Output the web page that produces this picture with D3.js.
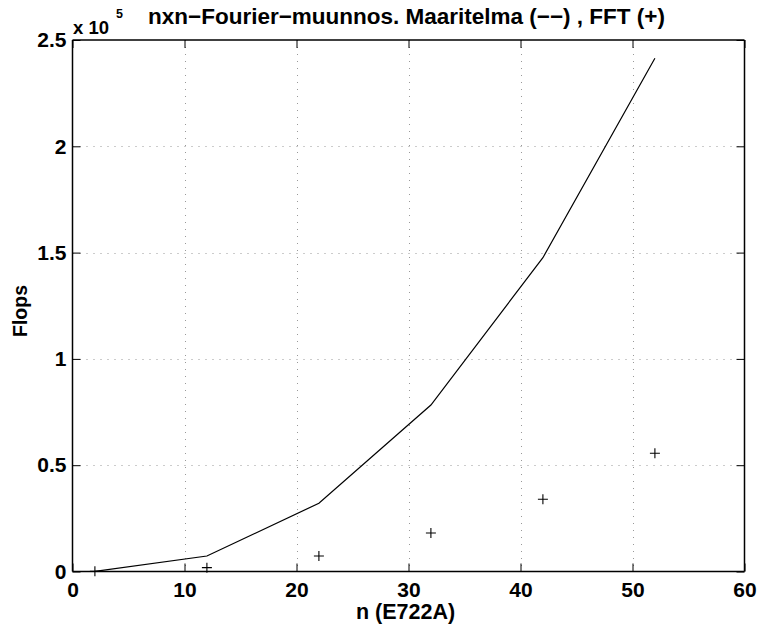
<!DOCTYPE html>
<html><head><meta charset="utf-8">
<script src="https://cdn.jsdelivr.net/npm/d3@7"></script>
<style>body{margin:0;background:#fff}svg{display:block}</style>
</head><body>
<svg id="c" width="761" height="632"></svg>
<script>
const nValues = [2, 12, 22, 32, 42, 52];
const defFlops = [100, 7300, 32100, 78300, 147600, 241400];
const fftFlops = [60, 1800, 7300, 18100, 34000, 55600];
const xTicks = [0, 10, 20, 30, 40, 50, 60];
const yTicks = [0, 0.5e5, 1e5, 1.5e5, 2e5, 2.5e5];
const yTickLabels = ["0", "0.5", "1", "1.5", "2", "2.5"];

const svg = d3.select("#c");
const L = 72.5, R = 744.5, T = 40, B = 571.5;
const x = d3.scaleLinear().domain([0, 60]).range([L, R]);
const y = d3.scaleLinear().domain([0, 2.5e5]).range([B, T]);
const font = "'Liberation Sans', Arial, Helvetica, sans-serif";

// grid
const g = svg.append("g");
g.selectAll(".vg").data(xTicks.slice(1, -1)).enter().append("line")
  .attr("x1", d => Math.round(x(d)) + 0.5).attr("x2", d => Math.round(x(d)) + 0.5)
  .attr("y1", T).attr("y2", B)
  .attr("stroke", "#999").attr("stroke-width", 1).attr("stroke-dasharray", "1,6");
g.selectAll(".hg").data(yTicks.slice(1, -1)).enter().append("line")
  .attr("y1", d => Math.round(y(d)) + 0.5).attr("y2", d => Math.round(y(d)) + 0.5)
  .attr("x1", L).attr("x2", R)
  .attr("stroke", "#999").attr("stroke-width", 1).attr("stroke-dasharray", "1,6");

// axes with inward ticks
const xb = d3.axisBottom(x).tickValues(xTicks).tickSize(-8).tickPadding(11).tickFormat(d3.format("d"));
const xt = d3.axisTop(x).tickValues(xTicks).tickSize(-8).tickFormat("");
const yl = d3.axisLeft(y).tickValues(yTicks).tickSize(-8).tickPadding(6).tickFormat((d, i) => yTickLabels[i]);
const yr = d3.axisRight(y).tickValues(yTicks).tickSize(-8).tickFormat("");

function style(sel) {
  sel.attr("font-size", null).attr("font-family", null);
  sel.selectAll(".domain").attr("stroke", "#000").attr("stroke-width", 1.5);
  sel.selectAll(".tick line").attr("stroke", "#000").attr("stroke-width", 1);
  sel.selectAll("text").style("font-family", font).style("font-weight", "bold")
    .style("font-size", "21px").attr("fill", "#000");
}
svg.append("g").attr("transform", `translate(0,${B})`).call(xb).call(style)
  .call(s => s.select(".domain").attr("d", `M${L},0H${R}`));
svg.append("g").attr("transform", `translate(0,${T})`).call(xt).call(style)
  .call(s => s.select(".domain").attr("d", `M${L},0H${R}`));
svg.append("g").attr("transform", `translate(${L},0)`).call(yl).call(style)
  .call(s => s.select(".domain").attr("d", `M0,${T}V${B}`));
svg.append("g").attr("transform", `translate(${R},0)`).call(yr).call(style)
  .call(s => s.select(".domain").attr("d", `M0,${T}V${B}`));

// definition line
const data = nValues.map((n, i) => ({n, d: defFlops[i], f: fftFlops[i]}));
svg.append("path").datum(data)
  .attr("d", d3.line().x(d => x(d.n)).y(d => y(d.d)))
  .attr("fill", "none").attr("stroke", "#000").attr("stroke-width", 1.2);

// FFT plus markers
svg.selectAll(".pm").data(data).enter().append("path")
  .attr("d", d => { const cx = x(d.n), cy = y(d.f), s = 5;
    return `M${cx - s},${cy}H${cx + s}M${cx},${cy - s}V${cy + s}`; })
  .attr("stroke", "#000").attr("stroke-width", 1.1).attr("fill", "none");

// exponent label
const ex = svg.append("text").attr("x", 73).attr("y", 34)
  .style("font-family", font).style("font-weight", "bold").style("font-size", "18.5px").attr("fill", "#000");
ex.append("tspan").text("x 10");
ex.append("tspan").attr("dx", 7).attr("dy", -16).style("font-size", "12.5px").text("5");

// title
svg.append("text").attr("x", 406.5).attr("y", 24).attr("text-anchor", "middle")
  .style("font-family", font).style("font-weight", "bold").style("font-size", "22.5px").attr("fill", "#000")
  .text("nxn\u2212Fourier\u2212muunnos. Maaritelma (\u2212\u2212) , FFT (+)");

// axis labels
svg.append("text").attr("x", 405.5).attr("y", 619).attr("text-anchor", "middle")
  .style("font-family", font).style("font-weight", "bold").style("font-size", "21.5px").attr("fill", "#000")
  .text("n (E722A)");
svg.append("text").attr("transform", `translate(27,311) rotate(-90)`)
  .attr("text-anchor", "middle")
  .style("font-family", font).style("font-weight", "bold").style("font-size", "19.5px").attr("fill", "#000")
  .text("Flops");
</script>
</body></html>
